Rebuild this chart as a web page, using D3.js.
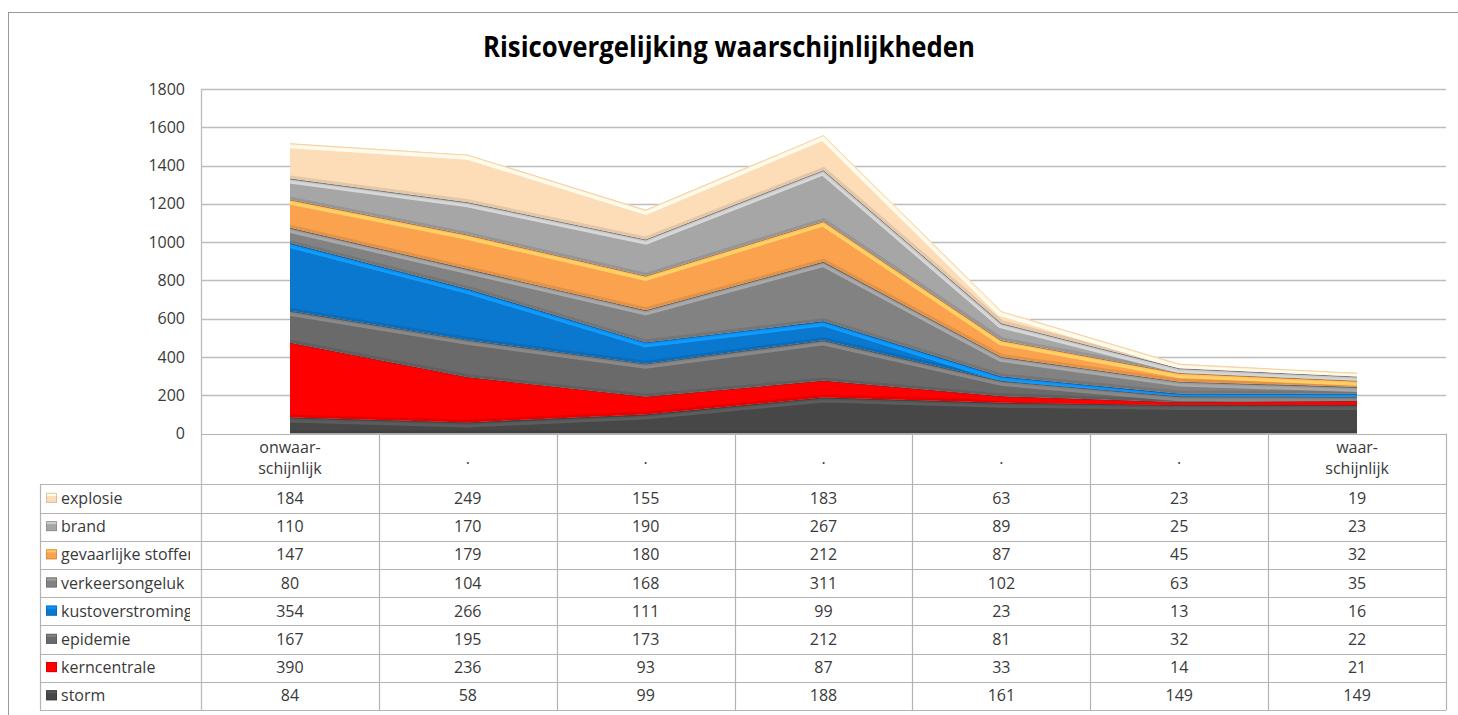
<!DOCTYPE html>
<html>
<head>
<meta charset="utf-8">
<script src="https://cdn.jsdelivr.net/npm/d3@7/dist/d3.min.js"></script>
<style>
  html, body { margin: 0; padding: 0; background: #fff; }
  svg { display: block; }
  text { font-family: "Open Sans", "Noto Sans", sans-serif; }
</style>
</head>
<body>
<svg id="chart" width="1458" height="715"></svg>
<script>
// ---- data ----
const title = "Risicovergelijking waarschijnlijkheden";
const categoryLabels = [["onwaar-", "schijnlijk"], ["."], ["."], ["."], ["."], ["."], ["waar-", "schijnlijk"]];
const yTicks = [0, 200, 400, 600, 800, 1000, 1200, 1400, 1600, 1800];

// table order (top to bottom)
const seriesNames = ["explosie", "brand", "gevaarlijke stoffen", "verkeersongeluk", "kustoverstroming", "epidemie", "kerncentrale", "storm"];
const explosie         = [184, 249, 155, 183, 63, 23, 19];
const brand            = [110, 170, 190, 267, 89, 25, 23];
const gevaarlijke      = [147, 179, 180, 212, 87, 45, 32];
const verkeersongeluk  = [80, 104, 168, 311, 102, 63, 35];
const kustoverstroming = [354, 266, 111, 99, 23, 13, 16];
const epidemie         = [167, 195, 173, 212, 81, 32, 22];
const kerncentrale     = [390, 236, 93, 87, 33, 14, 21];
const storm            = [84, 58, 99, 188, 161, 149, 149];
const seriesValues = [explosie, brand, gevaarlijke, verkeersongeluk, kustoverstroming, epidemie, kerncentrale, storm];
const seriesColors = ["#FDDCB8", "#A6A6A6", "#FBA24F", "#828282", "#0B78CF", "#6A6A6A", "#FF0000", "#474747"];

// ---- layout ----
const svg = d3.select("#chart");
const plotLeft = 201, plotRight = 1446, plotTop = 89, plotBottom = 433.5;
const tableLeft = 40, headerBottom = 484.3, rowH = 28.2;
const gridColor = "#BDBDBD", tableColor = "#B3B3B3", textColor = "#3A3A3A";
const fs = 16;

// outer frame
svg.append("rect").attr("x", 8.5).attr("y", 12.5).attr("width", 1470).attr("height", 720)
  .attr("fill", "none").attr("stroke", "#9A9A9A").attr("stroke-width", 1);

// title
svg.append("text").attr("x", 729).attr("y", 57).attr("text-anchor", "middle")
  .attr("font-size", 28).attr("font-weight", "bold").attr("fill", "#000")
  .attr("textLength", 492).attr("lengthAdjust", "spacingAndGlyphs")
  .text(title);

const idx = d3.range(categoryLabels.length);
const x = d3.scaleBand().domain(idx).range([plotLeft, plotRight]);
const xc = i => x(i) + x.bandwidth() / 2;
const y = d3.scaleLinear().domain([0, 1800]).range([plotBottom, plotTop]);

// gridlines
svg.append("g").selectAll("line").data(yTicks.filter(t => t > 0)).join("line")
  .attr("x1", plotLeft).attr("x2", plotRight)
  .attr("y1", d => Math.round(y(d)) + 0.5).attr("y2", d => Math.round(y(d)) + 0.5)
  .attr("stroke", gridColor).attr("stroke-width", 1.3);

// y axis
const yAxis = d3.axisLeft(y).tickValues(yTicks).tickFormat(d3.format("d")).tickSize(0).tickPadding(16);
const yg = svg.append("g").attr("transform", `translate(${plotLeft},0)`).call(yAxis);
yg.select(".domain").remove();
yg.selectAll("text").attr("font-size", fs).attr("fill", textColor)
  .attr("font-family", "'Open Sans', sans-serif");
svg.append("line").attr("x1", plotLeft + 0.5).attr("x2", plotLeft + 0.5).attr("y1", plotTop).attr("y2", 710)
  .attr("stroke", gridColor).attr("stroke-width", 1.3);

// stacked areas (storm at the bottom)
const stackOrder = seriesNames.slice().reverse();
const rows = idx.map(i => {
  const o = { i };
  seriesNames.forEach((n, k) => o[n] = seriesValues[k][i]);
  return o;
});
const stacked = d3.stack().keys(stackOrder)(rows);
const area = d3.area().x(d => xc(d.data.i)).y0(d => y(d[0])).y1(d => y(d[1])).curve(d3.curveLinear);
const topLine = d3.line().x(d => xc(d.data.i)).y(d => y(d[1]));
const botLine = d3.line().x(d => xc(d.data.i)).y(d => y(d[0]));

const defs = svg.append("defs");
const areasG = svg.append("g");
stacked.forEach((layer, li) => {
  const name = layer.key;
  const col = seriesColors[seriesNames.indexOf(name)];
  const c = d3.color(col);
  const id = "clip" + li;
  defs.append("clipPath").attr("id", id).append("path").attr("d", area(layer));
  const g = areasG.append("g").attr("clip-path", `url(#${id})`);
  g.append("path").attr("d", area(layer)).attr("fill", col);
  // darker shading near the bottom
  g.append("path").attr("d", botLine(layer)).attr("fill", "none")
    .attr("stroke", c.darker(0.6)).attr("stroke-opacity", 0.5).attr("stroke-width", 6);
  // light bevel band near the top
  g.append("path").attr("d", topLine(layer)).attr("fill", "none")
    .attr("stroke", c.brighter(0.8)).attr("stroke-opacity", 0.9).attr("stroke-width", 10);
  g.append("path").attr("d", topLine(layer)).attr("fill", "none")
    .attr("stroke", col).attr("stroke-width", 4);
  g.append("path").attr("d", topLine(layer)).attr("transform", "translate(0,1.8)").attr("fill", "none")
    .attr("stroke", c.brighter(0.6)).attr("stroke-opacity", 0.8).attr("stroke-width", 1.4);
  // thin dark edge at the top boundary
  g.append("path").attr("d", topLine(layer)).attr("fill", "none")
    .attr("stroke", name === "explosie" ? "#E8C09A" : "#3a3a3a").attr("stroke-opacity", 0.5).attr("stroke-width", 1.4);
});

// ---- data table ----
const tg = svg.append("g");
const hLines = [plotBottom].concat(d3.range(seriesNames.length + 1).map(k => headerBottom + k * rowH));
tg.selectAll("line.h").data(hLines).join("line").attr("class", "h")
  .attr("x1", (d, k) => k === 0 ? plotLeft : tableLeft).attr("x2", plotRight)
  .attr("y1", d => Math.round(d) + 0.5).attr("y2", d => Math.round(d) + 0.5)
  .attr("stroke", tableColor).attr("stroke-width", 1.2);
const vX = idx.map(i => x(i) + x.bandwidth());
tg.selectAll("line.v").data(vX).join("line").attr("class", "v")
  .attr("x1", d => Math.round(d) + 0.5).attr("x2", d => Math.round(d) + 0.5)
  .attr("y1", plotBottom).attr("y2", headerBottom + seriesNames.length * rowH)
  .attr("stroke", tableColor).attr("stroke-width", 1.2);
tg.append("line").attr("x1", tableLeft + 0.5).attr("x2", tableLeft + 0.5)
  .attr("y1", headerBottom).attr("y2", headerBottom + seriesNames.length * rowH)
  .attr("stroke", tableColor).attr("stroke-width", 1.2);

// header labels
categoryLabels.forEach((lines, i) => {
  const t = tg.append("text").attr("text-anchor", "middle").attr("font-size", fs).attr("fill", textColor);
  if (lines.length === 2) {
    t.append("tspan").attr("x", xc(i)).attr("y", 453).text(lines[0]);
    t.append("tspan").attr("x", xc(i)).attr("y", 474).text(lines[1]);
  } else {
    t.append("tspan").attr("x", xc(i)).attr("y", 464).text(lines[0]);
  }
});

// legend cells + values
defs.append("clipPath").attr("id", "legclip").append("rect")
  .attr("x", tableLeft).attr("y", headerBottom).attr("width", plotLeft - tableLeft - 11).attr("height", 300);
seriesNames.forEach((name, k) => {
  const cy = headerBottom + k * rowH + rowH / 2;
  const col = seriesColors[k];
  const c = d3.color(col);
  const sg = tg.append("g");
  sg.append("rect").attr("x", 46).attr("y", cy - 5.5).attr("width", 11).attr("height", 10).attr("fill", col);
  sg.append("rect").attr("x", 46).attr("y", cy - 5.5).attr("width", 11).attr("height", 3).attr("fill", c.brighter(0.6));
  sg.append("rect").attr("x", 46.5).attr("y", cy - 5).attr("width", 10).attr("height", 9)
    .attr("fill", "none").attr("stroke", c.darker(0.7)).attr("stroke-opacity", 0.6).attr("stroke-width", 1);
  tg.append("text").attr("x", 61).attr("y", cy + 5.5).attr("font-size", fs).attr("fill", textColor)
    .attr("clip-path", "url(#legclip)").text(name);
  seriesValues[k].forEach((v, i) => {
    tg.append("text").attr("x", xc(i)).attr("y", cy + 5.5).attr("text-anchor", "middle")
      .attr("font-size", fs).attr("fill", textColor).text(v);
  });
});
</script>
</body>
</html>
